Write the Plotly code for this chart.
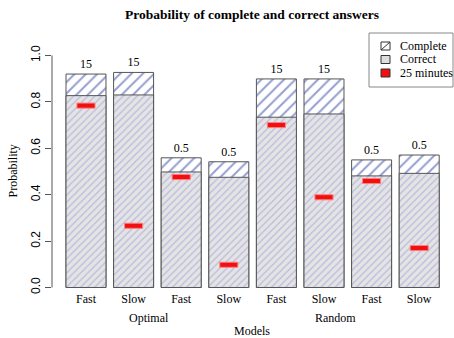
import plotly.graph_objects as go

speeds = ["Fast", "Slow", "Fast", "Slow", "Fast", "Slow", "Fast", "Slow"]
groups = ["Optimal", "Random"]
complete = [0.920, 0.927, 0.559, 0.542, 0.899, 0.899, 0.550, 0.571]
correct = [0.827, 0.830, 0.498, 0.475, 0.734, 0.748, 0.481, 0.492]
min25 = [0.784, 0.266, 0.476, 0.098, 0.700, 0.389, 0.459, 0.170]
bar_labels = ["15", "15", "0.5", "0.5", "15", "15", "0.5", "0.5"]
legend_names = ["Complete", "Correct", "25 minutes"]
yticks = [0.0, 0.2, 0.4, 0.6, 0.8, 1.0]

x = list(range(len(speeds)))
SERIF = "Liberation Serif"
SANS = "Liberation Sans"
edge = "#555555"
mark_h = 0.022
W, H = 454, 338
ML, MR, MT, MB = 52, 2, 40, 48
PW, PH = W - ML - MR, H - MT - MB


def px(v):
    return (v - ML) / PW


def py(v):
    return (H - MB - v) / PH


fig = go.Figure()
fig.add_trace(go.Bar(
    x=x, y=complete, width=0.84, name=legend_names[0], showlegend=False,
    marker=dict(color="white", line=dict(color=edge, width=1),
                pattern=dict(shape="/", fgcolor="#2a40a0", bgcolor="white",
                             size=8, solidity=0.25)),
    text=bar_labels, textposition="outside", cliponaxis=False,
    textfont=dict(family=SERIF, size=12, color="black"),
))
fig.add_trace(go.Bar(
    x=x, y=correct, width=0.84, name=legend_names[1], showlegend=False,
    marker=dict(color="#e4e4e4", line=dict(color=edge, width=1),
                pattern=dict(shape="/", fgcolor="#9494da", bgcolor="#e4e4e4",
                             size=5, solidity=0.28)),
))
fig.add_trace(go.Bar(
    x=x, y=[mark_h] * len(min25), base=[v - mark_h / 2 for v in min25],
    width=0.38, name=legend_names[2], showlegend=False,
    marker=dict(color="#f01010", line=dict(color="#ff8080", width=1)),
))

# manual legend (R style)
shapes = [dict(type="line", xref="paper", yref="y", x0=0, x1=0,
               y0=yticks[0], y1=yticks[-1], line=dict(color=edge, width=1))]
shapes.append(dict(type="rect", xref="paper", yref="paper",
                   x0=px(369), x1=px(453), y0=py(87), y1=py(33),
                   line=dict(color="#888888", width=1), fillcolor="white", layer="above"))
ys = [46, 59.5, 73]
fills = ["white", "#dddddd", "#f01010"]
for yy, fc in zip(ys, fills):
    shapes.append(dict(type="rect", xref="paper", yref="paper",
                       x0=px(381), x1=px(390), y0=py(yy + 4), y1=py(yy - 4),
                       line=dict(color="#333333", width=1), fillcolor=fc, layer="above"))
shapes.append(dict(type="line", xref="paper", yref="paper",
                   x0=px(381), x1=px(390), y0=py(ys[0] + 4), y1=py(ys[0] - 4),
                   line=dict(color="#333333", width=1), layer="above"))

annotations = [
    dict(text="<b>Probability of complete and correct answers</b>",
         xref="paper", yref="paper", x=0.5, y=py(15), xanchor="center",
         yanchor="middle", showarrow=False,
         font=dict(family=SERIF, size=13.5, color="black")),
    dict(text="Probability", xref="paper", yref="y", x=px(12), y=0.5,
         textangle=-90, showarrow=False, xanchor="center", yanchor="middle",
         font=dict(family=SERIF, size=12, color="black")),
    dict(text=groups[0], xref="x", yref="paper", x=1.32, y=py(318),
         showarrow=False, yanchor="middle",
         font=dict(family=SERIF, size=12, color="black")),
    dict(text=groups[1], xref="x", yref="paper", x=5.25, y=py(318),
         showarrow=False, yanchor="middle",
         font=dict(family=SERIF, size=12, color="black")),
    dict(text="Models", xref="x", yref="paper", x=3.49, y=py(331),
         showarrow=False, yanchor="middle",
         font=dict(family=SERIF, size=12, color="black")),
]
for yy, name in zip(ys, legend_names):
    annotations.append(dict(text=name, xref="paper", yref="paper",
                            x=px(398), y=py(yy), xanchor="left", yanchor="middle",
                            showarrow=False,
                            font=dict(family=SERIF, size=12, color="black")))

fig.update_layout(
    width=W, height=H,
    margin=dict(l=ML, r=MR, t=MT, b=MB, autoexpand=False),
    barmode="overlay",
    plot_bgcolor="white", paper_bgcolor="white",
    showlegend=False,
    xaxis=dict(range=[-0.714, 7.689], tickvals=x, ticktext=speeds,
               showline=False, showgrid=False, zeroline=False, ticks="",
               automargin=False,
               tickfont=dict(family=SERIF, size=12, color="black")),
    yaxis=dict(range=[-0.0108, 1.0668], tickvals=yticks,
               ticktext=["%.1f" % v for v in yticks],
               ticks="outside", ticklen=6, tickcolor=edge,
               showline=False, showgrid=False, zeroline=False,
               tickangle=-90, automargin=False,
               tickfont=dict(family=SANS, size=12, color="black")),
    shapes=shapes,
    annotations=annotations,
)

fig.write_html("out.html", config={"displayModeBar": False},
               post_script="document.body.style.margin='0';document.body.style.padding='0';document.body.style.overflow='hidden';")
